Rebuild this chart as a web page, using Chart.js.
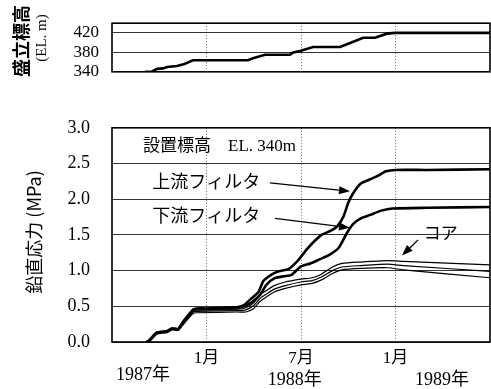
<!DOCTYPE html>
<html><head><meta charset="utf-8">
<script src="https://cdn.jsdelivr.net/npm/chart.js@4.4.0/dist/chart.umd.min.js"></script>
<style>
body{margin:0;background:#fff;width:491px;height:389px;overflow:hidden;position:relative}
#c1{position:absolute;left:0;top:0}
#c2{position:absolute;left:0;top:95px}
</style></head><body>
<canvas id="c1" width="491" height="95"></canvas>
<canvas id="c2" width="491" height="294"></canvas>
<script>
// ---- data (x in months from July 1987) ----
const elevMonths = [2.1,2.5,2.86,3.24,3.5,4.13,4.6,5.14,8.63,8.95,9.71,11.3,11.5,11.94,12.76,14.48,15.56,15.94,16.7,17.46,17.97,24];
const elevValues = [340,340,346,347,350,352,356,363.7,363.7,367.7,375,375,380,383,391,391,405,410,410,418.5,420,420];

const upMonths = [2.2,2.4,2.85,3.5,3.81,4.19,4.51,5.14,5.4,6.0,7.0,8.0,8.4,8.8,9.3,9.6,10.1,10.6,11.2,11.8,12.3,12.8,13.3,13.9,14.3,14.7,15.0,15.3,15.8,16.4,16.9,17.4,18.0,20,24];
const upValues = [0,0.03,0.13,0.15,0.19,0.18,0.28,0.45,0.47,0.47,0.48,0.49,0.52,0.60,0.70,0.85,0.94,0.99,1.02,1.14,1.28,1.40,1.50,1.56,1.62,1.76,1.95,2.08,2.22,2.28,2.33,2.39,2.41,2.41,2.42];

const downMonths = [2.2,2.4,2.85,3.5,3.81,4.19,4.51,5.14,5.4,6.0,7.0,8.0,8.4,8.9,9.4,9.8,10.3,10.9,11.4,12.0,12.6,13.2,13.8,14.4,14.9,15.3,15.8,16.4,17.1,17.8,20,24];
const downValues = [0,0.03,0.13,0.15,0.19,0.18,0.28,0.45,0.46,0.46,0.47,0.48,0.50,0.56,0.66,0.80,0.89,0.92,0.94,1.06,1.10,1.16,1.22,1.32,1.52,1.65,1.73,1.78,1.84,1.87,1.88,1.89];

const coreMonths = [2.2,2.4,2.85,3.5,3.81,4.19,4.51,5.14,5.4,8.0,8.5,9.0,9.4,9.8,10.3,11.0,12.0,12.7,13.3,14.0,14.6,15.8,17.5,18.5,24];
const core1 = [0,0.03,0.13,0.15,0.19,0.18,0.28,0.44,0.45,0.46,0.48,0.55,0.66,0.72,0.79,0.84,0.88,0.90,0.95,1.05,1.10,1.12,1.14,1.13,1.08];
const core2 = [0,0.02,0.12,0.14,0.18,0.17,0.26,0.42,0.43,0.44,0.45,0.51,0.61,0.67,0.74,0.79,0.84,0.86,0.91,1.00,1.05,1.07,1.09,1.07,0.99];
const core3 = [0,0.01,0.11,0.13,0.17,0.16,0.24,0.40,0.41,0.42,0.42,0.47,0.57,0.63,0.70,0.75,0.80,0.82,0.87,0.96,1.01,1.03,1.04,1.01,0.90];

const monthTicks = [6,12,18];
const monthLabels = ['1月','7月','1月'];
const elevTicks = [340,380,420];
const years = [{t:'1987年',x:1.97,dy:33},{t:'1988年',x:11.6,dy:38},{t:'1989年',x:20.95,dy:38}];
const notes = [
  {t:'設置標高　EL. 340m',x:1.97,y:2.74,size:17},
  {t:'上流フィルタ',x:2.55,y:2.23,size:18},
  {t:'下流フィルタ',x:2.55,y:1.75,size:18},
  {t:'コア',x:19.8,y:1.51,size:17}
];
const arrows = [
  {x1:10.03,y1:2.23,x2:15.11,y2:2.11},
  {x1:10.35,y1:1.73,x2:15.11,y2:1.60},
  {x1:19.43,y1:1.43,x2:18.41,y2:1.21}
];

const pts = (xs,ys)=>xs.map((x,i)=>({x:x,y:ys[i]}));
const SERIF = '"Liberation Serif","DejaVu Serif","Noto Sans CJK JP"';
const CJK = '"Noto Sans CJK JP"';

function frame(chart){
  const a=chart.chartArea, c=chart.ctx;
  c.save(); c.strokeStyle='#000'; c.lineWidth=1.6;
  c.strokeRect(a.left,a.top,a.right-a.left,a.bottom-a.top);
  c.restore();
}
function vText(c,t,x,y,font){
  c.save(); c.translate(x,y); c.rotate(-Math.PI/2);
  c.font=font; c.fillStyle='#000'; c.textAlign='center'; c.textBaseline='middle';
  c.fillText(t,0,0); c.restore();
}

const xCommon = {
  type:'linear', min:0, max:24,
  afterBuildTicks:s=>{s.ticks=monthTicks.map(v=>({value:v}));},
  grid:{color:'#666',lineWidth:1,drawTicks:false},
  border:{display:false,dash:[1,2]}
};

new Chart(document.getElementById('c1'),{
  type:'line',
  data:{datasets:[{data:pts(elevMonths,elevValues),borderColor:'#000',borderWidth:2.6,pointRadius:0,tension:0}]},
  options:{
    responsive:false,animation:false,
    layout:{padding:{left:0,right:1,top:9,bottom:18}},
    plugins:{legend:{display:false},tooltip:{enabled:false}},
    scales:{
      x:Object.assign({},xCommon,{ticks:{display:false}}),
      y:{min:340,max:440,
        afterBuildTicks:s=>{s.ticks=elevTicks.map(v=>({value:v}));},
        afterFit:s=>{s.width=112;},
        ticks:{color:'#000',padding:13,font:{family:SERIF,size:17}},
        grid:{color:'#333',lineWidth:1,drawTicks:false},
        border:{display:false}}
    }
  },
  plugins:[{id:'f1',afterDraw:ch=>{
    frame(ch);
    vText(ch.ctx,'盛立標高',21,41,'bold 18px '+CJK);
    vText(ch.ctx,'(EL. m)',42,38,'15px '+SERIF);
  }}]
});

new Chart(document.getElementById('c2'),{
  type:'line',
  data:{datasets:[
    {data:pts(upMonths,upValues),borderColor:'#000',borderWidth:2.6,pointRadius:0,tension:0.2},
    {data:pts(downMonths,downValues),borderColor:'#000',borderWidth:2.6,pointRadius:0,tension:0.2},
    {data:pts(coreMonths,core1),borderColor:'#000',borderWidth:1.2,pointRadius:0,tension:0.2},
    {data:pts(coreMonths,core2),borderColor:'#000',borderWidth:1.2,pointRadius:0,tension:0.2},
    {data:pts(coreMonths,core3),borderColor:'#000',borderWidth:1.2,pointRadius:0,tension:0.2}
  ]},
  options:{
    responsive:false,animation:false,
    layout:{padding:{left:0,right:1,top:14,bottom:12}},
    plugins:{legend:{display:false},tooltip:{enabled:false}},
    scales:{
      x:Object.assign({},xCommon,{
        afterFit:s=>{s.height=35;},
        ticks:{color:'#000',padding:6,font:{family:SERIF,size:17},
          callback:(v)=>{const i=monthTicks.indexOf(v);return i>=0?monthLabels[i]:'';}}
      }),
      y:{min:0,max:3,
        afterFit:s=>{s.width=112;},
        ticks:{stepSize:0.5,color:'#000',padding:22,font:{family:SERIF,size:18},callback:v=>Number(v).toFixed(1)},
        grid:{color:'#333',lineWidth:1,drawTicks:false},
        border:{display:false}}
    }
  },
  plugins:[{id:'f2',afterDraw:ch=>{
    const c=ch.ctx, xs=ch.scales.x, ys=ch.scales.y, a=ch.chartArea;
    frame(ch);
    vText(c,'鉛直応力 (MPa)',34,137,'18px '+CJK);
    c.save(); c.fillStyle='#000'; c.textBaseline='middle';
    notes.forEach(n=>{c.font=n.size+'px '+SERIF;c.textAlign='left';
      c.fillText(n.t,xs.getPixelForValue(n.x),ys.getPixelForValue(n.y));});
    years.forEach(y=>{c.font='18px '+SERIF;c.textAlign='center';
      c.fillText(y.t,xs.getPixelForValue(y.x),a.bottom+y.dy);});
    arrows.forEach(r=>{
      const x1=xs.getPixelForValue(r.x1),y1=ys.getPixelForValue(r.y1),x2=xs.getPixelForValue(r.x2),y2=ys.getPixelForValue(r.y2);
      const ang=Math.atan2(y2-y1,x2-x1), L=11, W=4;
      const bx=x2-L*Math.cos(ang), by=y2-L*Math.sin(ang);
      c.strokeStyle='#000';c.lineWidth=1.3;
      c.beginPath();c.moveTo(x1,y1);c.lineTo(bx,by);c.stroke();
      c.beginPath();c.moveTo(x2,y2);
      c.lineTo(bx+W*Math.sin(ang),by-W*Math.cos(ang));
      c.lineTo(bx-W*Math.sin(ang),by+W*Math.cos(ang));
      c.closePath();c.fill();
    });
    c.restore();
  }}]
});
</script>
</body></html>
